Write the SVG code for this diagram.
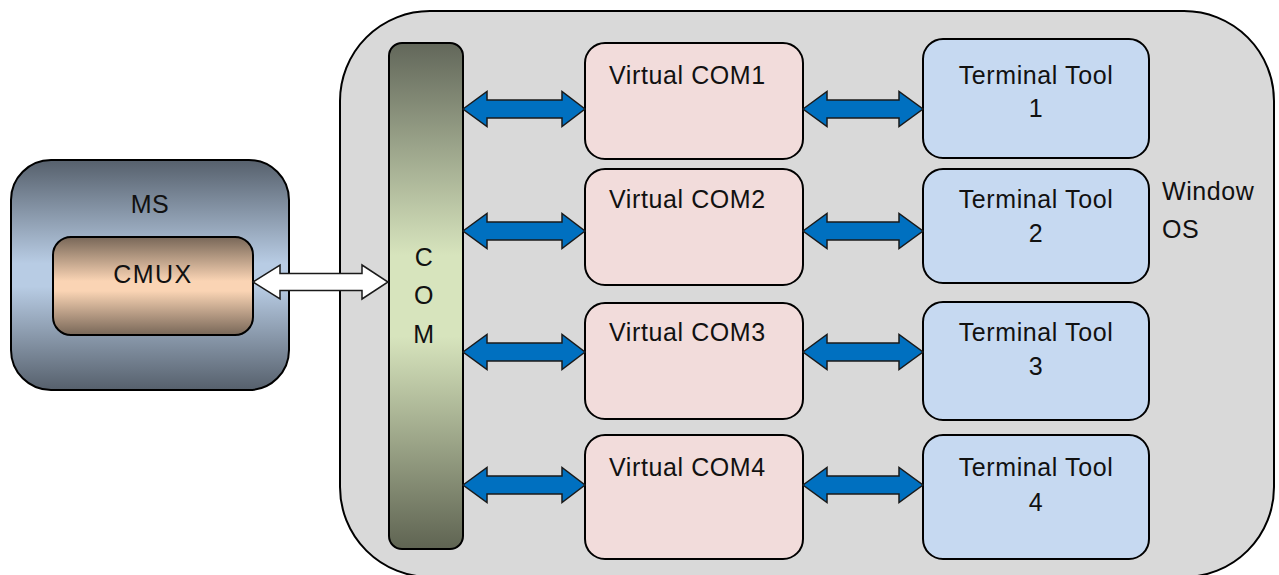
<svg xmlns="http://www.w3.org/2000/svg" width="1279" height="575" viewBox="0 0 1279 575">
  <defs>
    <linearGradient id="gMS" x1="0" y1="0" x2="0" y2="1">
      <stop offset="0" stop-color="#56606c"/>
      <stop offset="0.45" stop-color="#b8cce4"/>
      <stop offset="0.55" stop-color="#b8cce4"/>
      <stop offset="1" stop-color="#56606c"/>
    </linearGradient>
    <linearGradient id="gCMUX" x1="0" y1="0" x2="0" y2="1">
      <stop offset="0" stop-color="#786758"/>
      <stop offset="0.45" stop-color="#fad4b4"/>
      <stop offset="0.55" stop-color="#fad4b4"/>
      <stop offset="1" stop-color="#786758"/>
    </linearGradient>
    <linearGradient id="gCOM" x1="0" y1="0" x2="0" y2="1">
      <stop offset="0" stop-color="#62675a"/>
      <stop offset="0.42" stop-color="#d7e4bd"/>
      <stop offset="0.58" stop-color="#d7e4bd"/>
      <stop offset="1" stop-color="#5f6452"/>
    </linearGradient>
    <style>
      .box { stroke: #000; stroke-width: 2; }
      .vcom { fill: #f2dcdb; }
      .term { fill: #c6d9f1; }
      .lbl { font-family: "Liberation Sans", "DejaVu Sans", sans-serif; font-size: 25px; letter-spacing: 0.6px; fill: #111; }
      .mid { text-anchor: middle; }
      .blue { fill: #0070c0; stroke: #1a1a1a; stroke-width: 1.5; stroke-linejoin: miter; }
      .white { fill: #ffffff; stroke: #1a1a1a; stroke-width: 1.5; }
    </style>
  </defs>

  <!-- Windows host container -->
  <g id="window-os">
    <rect class="box" x="340" y="11" width="934" height="566" rx="90" ry="90" fill="#d9d9d9"/>
    <text class="lbl" x="1162" y="200">Window</text>
    <text class="lbl" x="1162" y="238">OS</text>
  </g>

  <!-- Mobile station with CMUX -->
  <g id="ms">
    <rect class="box" x="11" y="160" width="278" height="230" rx="40" ry="40" fill="url(#gMS)"/>
    <text class="lbl mid" x="150" y="213">MS</text>
  </g>
  <g id="cmux">
    <rect class="box" x="53" y="237" width="200" height="98" rx="18" ry="18" fill="url(#gCMUX)"/>
    <text class="lbl mid" x="153" y="283" style="letter-spacing:1.5px">CMUX</text>
  </g>

  <!-- Physical COM port -->
  <g id="com">
    <rect class="box" x="389" y="43" width="74" height="506" rx="13" ry="13" fill="url(#gCOM)"/>
    <text class="lbl mid" x="424" y="266">C</text>
    <text class="lbl mid" x="424" y="304">O</text>
    <text class="lbl mid" x="424" y="343">M</text>
  </g>

  <!-- Virtual COM ports -->
  <g id="vcom1">
    <rect class="box vcom" x="585" y="43" width="218" height="116" rx="20" ry="20"/>
    <text class="lbl" x="609" y="84">Virtual COM1</text>
  </g>
  <g id="vcom2">
    <rect class="box vcom" x="585" y="169" width="218" height="116" rx="20" ry="20"/>
    <text class="lbl" x="609" y="208">Virtual COM2</text>
  </g>
  <g id="vcom3">
    <rect class="box vcom" x="585" y="303" width="218" height="116" rx="20" ry="20"/>
    <text class="lbl" x="609" y="341">Virtual COM3</text>
  </g>
  <g id="vcom4">
    <rect class="box vcom" x="585" y="435" width="218" height="124" rx="20" ry="20"/>
    <text class="lbl" x="609" y="476">Virtual COM4</text>
  </g>

  <!-- Terminal tools -->
  <g id="term1">
    <rect class="box term" x="923" y="39" width="226" height="119" rx="20" ry="20"/>
    <text class="lbl mid" x="1036" y="84">Terminal Tool</text>
    <text class="lbl mid" x="1036" y="117">1</text>
  </g>
  <g id="term2">
    <rect class="box term" x="923" y="169" width="226" height="114" rx="20" ry="20"/>
    <text class="lbl mid" x="1036" y="208">Terminal Tool</text>
    <text class="lbl mid" x="1036" y="242">2</text>
  </g>
  <g id="term3">
    <rect class="box term" x="923" y="302" width="226" height="118" rx="20" ry="20"/>
    <text class="lbl mid" x="1036" y="341">Terminal Tool</text>
    <text class="lbl mid" x="1036" y="375">3</text>
  </g>
  <g id="term4">
    <rect class="box term" x="923" y="435" width="226" height="124" rx="20" ry="20"/>
    <text class="lbl mid" x="1036" y="476">Terminal Tool</text>
    <text class="lbl mid" x="1036" y="511">4</text>
  </g>

  <!-- Connectors: block double arrows -->
  <g id="connectors">
    <path class="white" d="M253,282 L280,265 L280,273.5 L362,273.5 L362,265 L388,282 L362,299 L362,290.5 L280,290.5 L280,299 Z"/>

    <path class="blue" d="M463,109 L487,91.5 L487,100 L562,100 L562,91.5 L585,109 L562,126.5 L562,118 L487,118 L487,126.5 Z"/>
    <path class="blue" d="M463,231 L487,213.5 L487,222 L562,222 L562,213.5 L585,231 L562,248.5 L562,240 L487,240 L487,248.5 Z"/>
    <path class="blue" d="M463,352 L487,334.5 L487,343 L562,343 L562,334.5 L585,352 L562,369.5 L562,361 L487,361 L487,369.5 Z"/>
    <path class="blue" d="M463,485 L487,467.5 L487,476 L562,476 L562,467.5 L585,485 L562,502.5 L562,494 L487,494 L487,502.5 Z"/>

    <path class="blue" d="M803,109 L827,91.5 L827,100 L899,100 L899,91.5 L923,109 L899,126.5 L899,118 L827,118 L827,126.5 Z"/>
    <path class="blue" d="M803,231 L827,213.5 L827,222 L899,222 L899,213.5 L923,231 L899,248.5 L899,240 L827,240 L827,248.5 Z"/>
    <path class="blue" d="M803,352 L827,334.5 L827,343 L899,343 L899,334.5 L923,352 L899,369.5 L899,361 L827,361 L827,369.5 Z"/>
    <path class="blue" d="M803,485 L827,467.5 L827,476 L899,476 L899,467.5 L923,485 L899,502.5 L899,494 L827,494 L827,502.5 Z"/>
  </g>
</svg>
